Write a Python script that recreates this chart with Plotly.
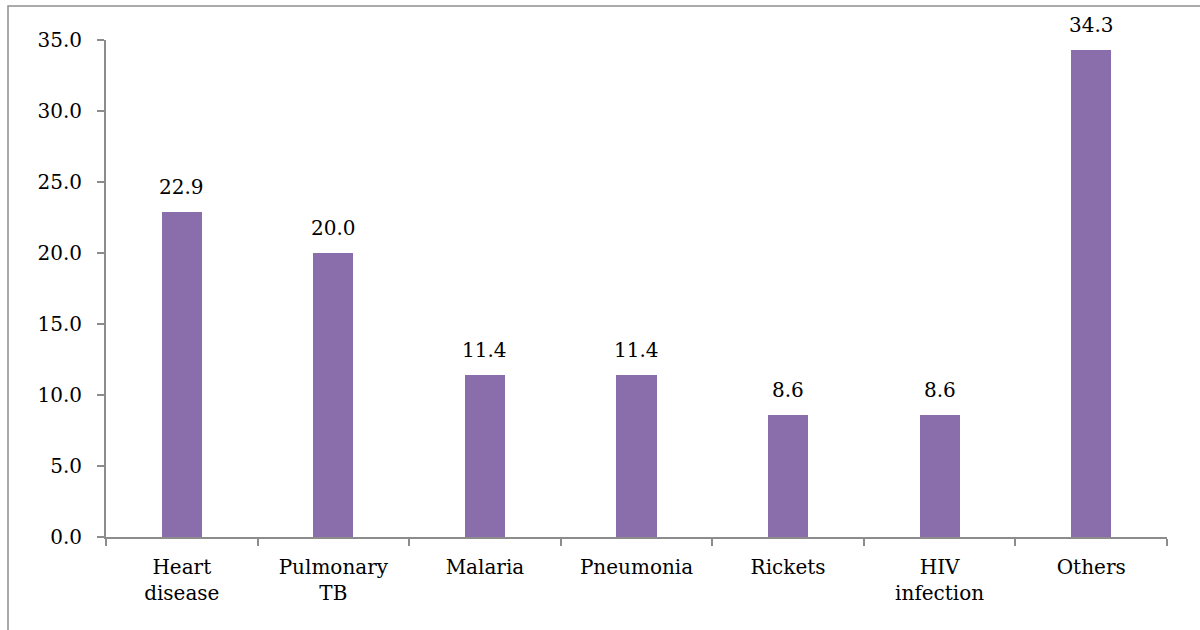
import plotly.graph_objects as go

# Share of cases by diagnosis (%)
categories = ["Heart<br>disease", "Pulmonary<br>TB", "Malaria", "Pneumonia",
              "Rickets", "HIV<br>infection", "Others"]
values = [22.9, 20.0, 11.4, 11.4, 8.6, 8.6, 34.3]
value_labels = ["22.9", "20.0", "11.4", "11.4", "8.6", "8.6", "34.3"]
y_ticks = [0, 5, 10, 15, 20, 25, 30, 35]
y_tick_labels = ["0.0", "5.0", "10.0", "15.0", "20.0", "25.0", "30.0", "35.0"]

W, H = 1200, 630
ML, MR, MT, MB = 106, 33, 40, 93
FONT = "DejaVu Serif"
FS = 20
AXIS_GREY = "#8c8c8c"

fig = go.Figure(
    go.Bar(
        x=categories,
        y=values,
        marker=dict(color="#8A6EAB", line=dict(width=0)),
        width=0.265,
        hoverinfo="x+y",
    )
)

# value labels above each bar
for cat, val, lab in zip(categories, values, value_labels):
    fig.add_annotation(
        x=cat, y=val, text=lab, showarrow=False,
        xanchor="center", yanchor="bottom", yshift=11,
        font=dict(family=FONT, size=FS, color="#000000"),
    )

# outer frame of the chart area, expressed relative to the plot area
pw, ph = W - ML - MR, H - MT - MB
def px_to_paper_x(px):
    return (px - ML) / pw
def px_to_paper_y(py):
    return (H - MB - py) / ph

fig.add_shape(
    type="rect", xref="paper", yref="paper",
    x0=px_to_paper_x(8), x1=px_to_paper_x(1210),
    y0=px_to_paper_y(640), y1=px_to_paper_y(6),
    line=dict(color="#8f8f8f", width=1.5), fillcolor="rgba(0,0,0,0)",
    layer="below",
)

fig.update_layout(
    width=W, height=H,
    margin=dict(l=ML, r=MR, t=MT, b=MB),
    paper_bgcolor="white", plot_bgcolor="white",
    showlegend=False,
    font=dict(family=FONT, size=FS, color="#000000"),
    bargap=0,
)
fig.update_xaxes(
    showline=True, linecolor=AXIS_GREY, linewidth=2,
    ticks="outside", tickson="boundaries", ticklen=7, tickwidth=2, tickcolor=AXIS_GREY,
    tickfont=dict(family=FONT, size=FS, color="#000000"),
    ticklabelstandoff=11,
    showgrid=False, zeroline=False,
)
fig.update_yaxes(
    range=[0, 35],
    tickvals=y_ticks, ticktext=y_tick_labels,
    showline=True, linecolor=AXIS_GREY, linewidth=2,
    ticks="outside", ticklen=7, tickwidth=2, tickcolor=AXIS_GREY,
    tickfont=dict(family=FONT, size=FS, color="#000000"),
    ticklabelstandoff=11,
    showgrid=False, zeroline=False,
)

fig.write_html("out.html")
